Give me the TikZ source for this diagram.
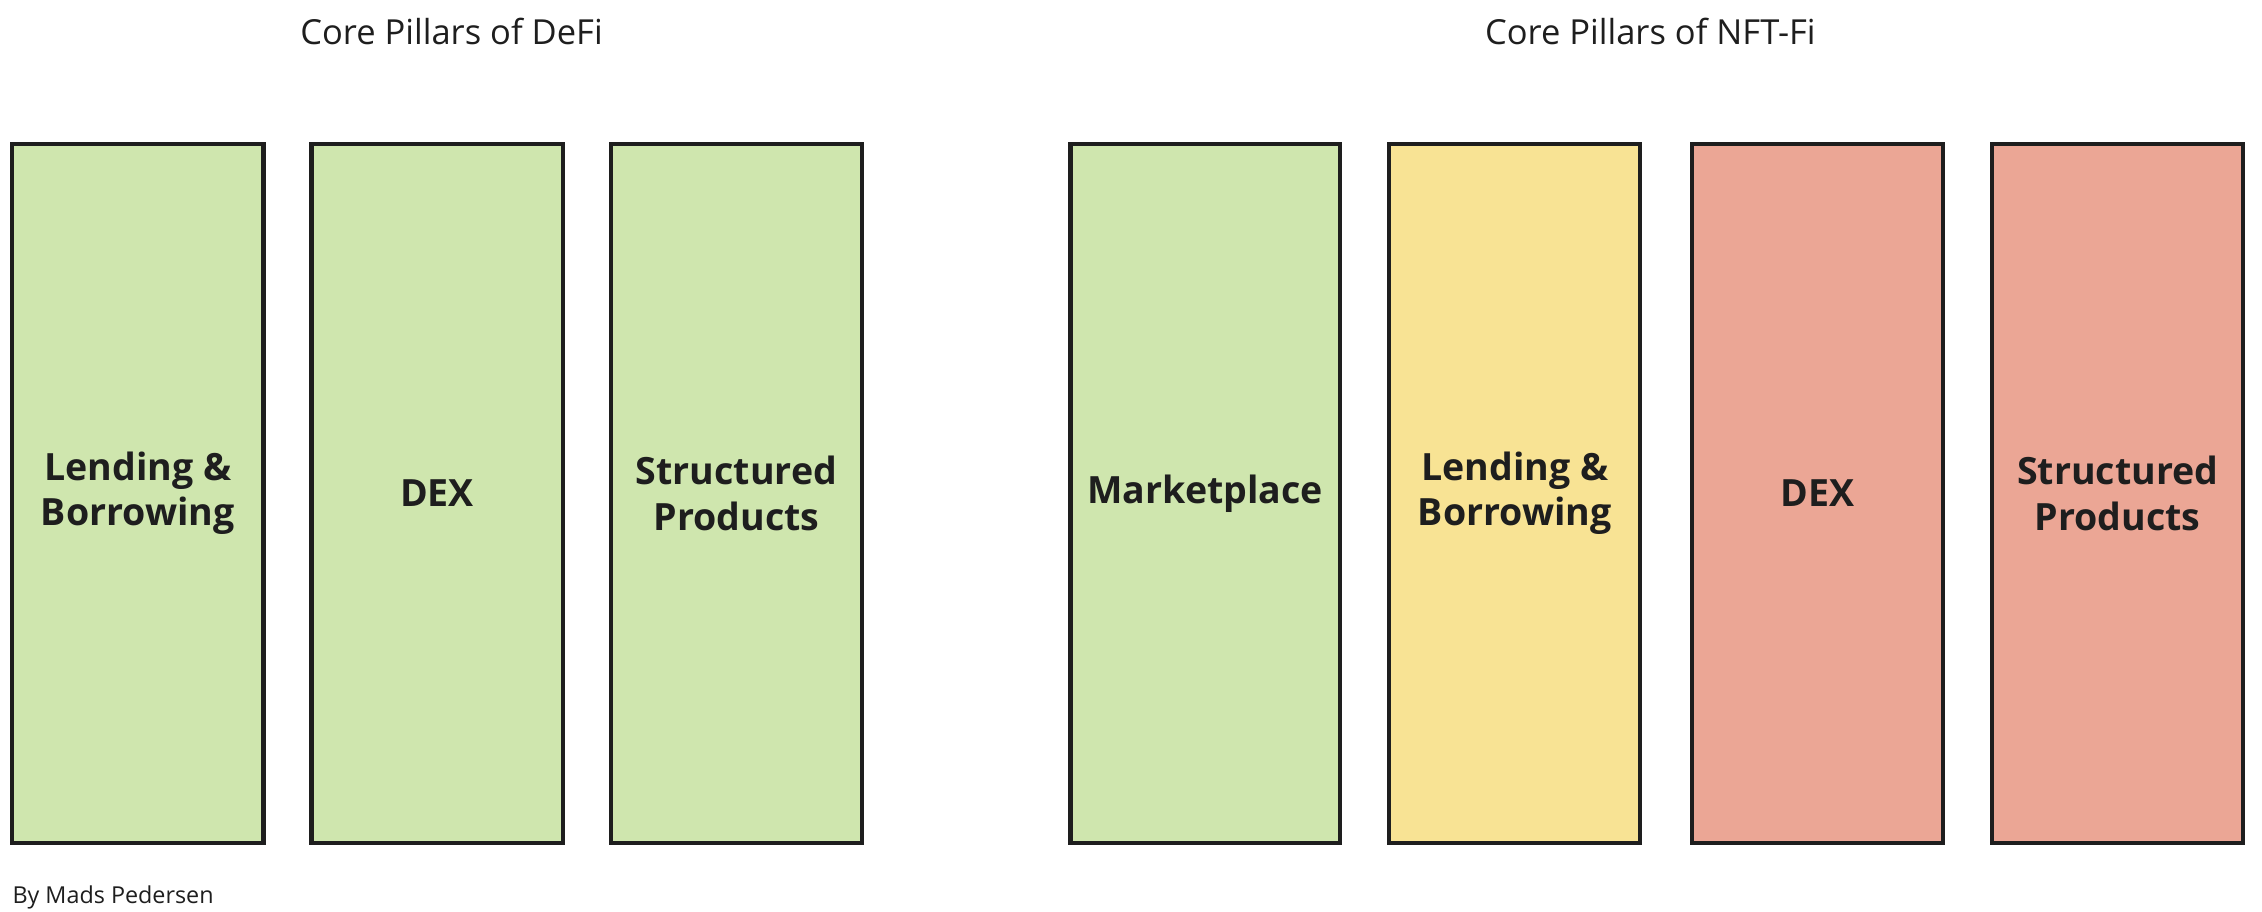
\documentclass[tikz,border=0pt]{standalone}
\usepackage{fontspec}
\setmainfont{Open Sans}
\usetikzlibrary{positioning}
\definecolor{pGreen}{HTML}{CFE6AE}
\definecolor{pYellow}{HTML}{F8E394}
\definecolor{pRed}{HTML}{EBA695}
\definecolor{pLine}{HTML}{1E1E1E}
\tikzset{
    pillar/.style={rectangle, draw=pLine, line width=0.85pt, minimum width=1.74cm,
                   minimum height=4.84cm, align=center, text=pLine,
                   font=\fontsize{7.4}{9}\selectfont\bfseries},
    heading/.style={font=\fontsize{6.8}{8}\selectfont, text=pLine},
    credit/.style={font=\fontsize{4.6}{6}\selectfont, text=pLine, anchor=west, inner sep=0pt}
}
\begin{document}
\begin{tikzpicture}[x=0.01cm, y=-0.01cm]
  \useasboundingbox (0,0) rectangle (1568,632);
  % DeFi
  \node[heading] (hdefi) at (313,22) {Core Pillars of DeFi};
  \node[pillar, fill=pGreen] (d1) at (95.5,342) {Lending \&\\Borrowing};
  \node[pillar, fill=pGreen] (d2) at (303,342) {DEX};
  \node[pillar, fill=pGreen] (d3) at (510.5,342) {Structured\\Products};
  % NFT-Fi
  \node[heading] (hnft) at (1144,22) {Core Pillars of NFT-Fi};
  \node[pillar, fill=pGreen, minimum width=1.83cm] (n1) at (835.5,342) {Marketplace};
  \node[pillar, fill=pYellow] (n2) at (1050,342) {Lending \&\\Borrowing};
  \node[pillar, fill=pRed] (n3) at (1260,342) {DEX};
  \node[pillar, fill=pRed] (n4) at (1468,342) {Structured\\Products};
  % Credit
  \node[credit] (by) at (8,622) {By Mads Pedersen};
\end{tikzpicture}
\end{document}
